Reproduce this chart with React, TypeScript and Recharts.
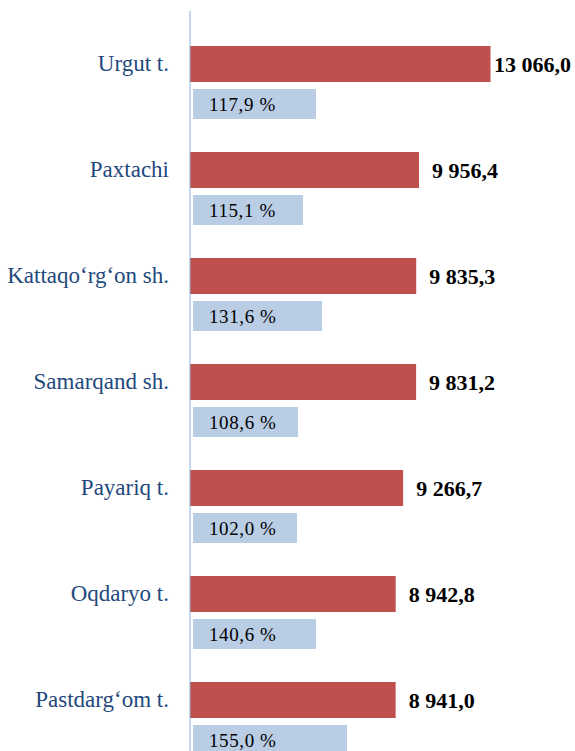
import { Bar, BarChart, LabelList, XAxis, YAxis } from "recharts";

const districts = [
  "Urgut t.",
  "Paxtachi",
  "Kattaqo‘rg‘on sh.",
  "Samarqand sh.",
  "Payariq t.",
  "Oqdaryo t.",
  "Pastdarg‘om t.",
];
const volume = [13066.0, 9956.4, 9835.3, 9831.2, 9266.7, 8942.8, 8941.0];
const growthPct = [117.9, 115.1, 131.6, 108.6, 102.0, 140.6, 155.0];
// lengths of the light bars as drawn in the picture
const growthBar = [123, 110, 129, 105, 104, 123, 154];

const data = districts.map((name, i) => ({
  name,
  volume: volume[i],
  pct: growthPct[i],
  bar: growthBar[i],
}));

const serif = "Liberation Serif";

const fmtVolume = (v: number) => {
  const [int, dec] = v.toFixed(1).split(".");
  return int.replace(/\B(?=(\d{3})+(?!\d))/g, " ") + "," + dec;
};

const fmtPct = (v: number) => v.toFixed(1).replace(".", ",") + " %";

function CategoryTick(props: any) {
  const { x, y, payload } = props;
  return (
    <text
      x={x}
      y={y - 19}
      textAnchor="end"
      dominantBaseline="central"
      fontFamily={serif}
      fontSize={23}
      fill="#1F497D"
    >
      {payload.value}
    </text>
  );
}

function VolumeLabel(props: any) {
  const { x, y, width, height, value } = props;
  const left = Math.min(Number(x) + Number(width) + 13, 494);
  return (
    <text
      x={left}
      y={Number(y) + Number(height) / 2}
      dominantBaseline="central"
      fontFamily={serif}
      fontWeight="bold"
      fontSize={22}
      fill="#000"
    >
      {fmtVolume(Number(value))}
    </text>
  );
}

function PctLabel(props: any) {
  const { x, y, height, value } = props;
  return (
    <text
      x={Number(x) + 16}
      y={Number(y) + Number(height) / 2}
      dominantBaseline="central"
      fontFamily={serif}
      fontWeight={500}
      fontSize={19}
      letterSpacing={0.6}
      fill="#000"
    >
      {fmtPct(Number(value))}
    </text>
  );
}

export default function App() {
  return (
    <div
      style={{
        position: "absolute",
        left: 0,
        top: 0,
        width: 575,
        height: 751,
        overflow: "hidden",
        background: "#fff",
      }}
    >
      <BarChart
        width={575}
        height={781}
        data={data}
        layout="vertical"
        margin={{ top: 11, right: 17, bottom: 10, left: 0 }}
        barGap={7}
      >
        <XAxis xAxisId="vol" type="number" domain={[0, 16000]} hide />
        <XAxis
          xAxisId="pct"
          type="number"
          domain={[0, 365]}
          padding={{ left: 3, right: 0 }}
          hide
        />
        <YAxis
          type="category"
          dataKey="name"
          width={190}
          padding={{ top: 18, bottom: 0 }}
          tickSize={0}
          tickMargin={21}
          tickLine={false}
          axisLine={{ stroke: "#8DB0DD" }}
          tick={<CategoryTick />}
          interval={0}
        />
        <Bar
          xAxisId="vol"
          dataKey="volume"
          fill="#C0504D"
          barSize={36}
          isAnimationActive={false}
        >
          <LabelList dataKey="volume" content={<VolumeLabel />} />
        </Bar>
        <Bar
          xAxisId="pct"
          dataKey="bar"
          fill="#B9CDE5"
          barSize={30}
          isAnimationActive={false}
        >
          <LabelList dataKey="pct" content={<PctLabel />} />
        </Bar>
      </BarChart>
    </div>
  );
}
